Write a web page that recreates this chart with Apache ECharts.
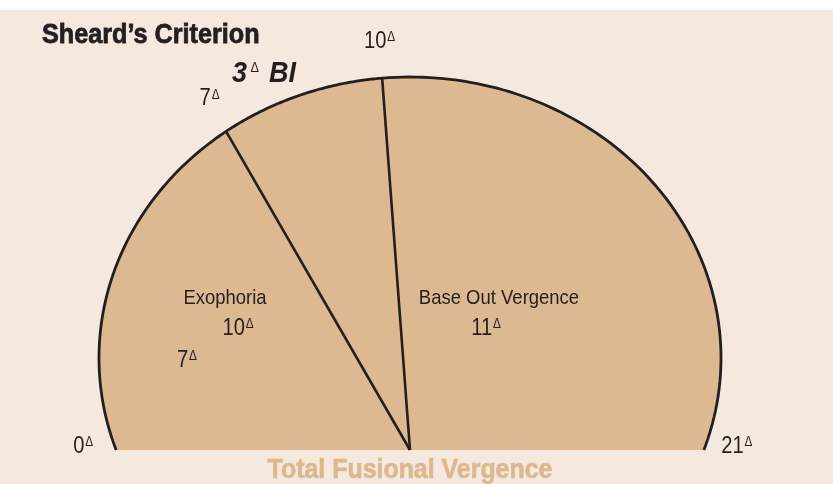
<!DOCTYPE html>
<html>
<head>
<meta charset="utf-8">
<script src="https://cdn.jsdelivr.net/npm/echarts@6/dist/echarts.min.js"></script>
<style>
  html, body { margin: 0; padding: 0; background: #ffffff; }
  #chart { width: 833px; height: 484px; }
</style>
</head>
<body>
<div id="chart"></div>
<script>
// Prism-dioptre marks along the total fusional range
const rangeMarks = [0, 7, 10, 21];
// Zones of the range, each running between two marks
const zoneStarts = [0, 7, 10];
const zoneEnds = [7, 10, 21];

const INK = '#231f20';
const TAN = '#ddb991';
const PAPER = '#f5e9df';
const SANS = '"Liberation Sans", Arial, Helvetica, sans-serif';
// condensed look: the sans face squeezed horizontally
const SQUEEZE_TEXT = 0.88;
const SQUEEZE_NUM = 0.84;

// Outline of the dome: an ellipse whose centre sits above the polar centre
const DOME = { dy: -92, rx: 311, ry: 281 };

// Where the ray for range value v meets the dome outline
function rimPoint(api, v) {
  const c = api.coord([0, v]);
  const p = api.coord([1, v]);
  const dx = p[0] - c[0], dy = p[1] - c[1];
  const len = Math.hypot(dx, dy) || 1;
  const ux = dx / len, uy = dy / len;
  const ox = 0, oy = -DOME.dy;
  const A = (ux / DOME.rx) ** 2 + (uy / DOME.ry) ** 2;
  const B = 2 * (ox * ux / DOME.rx ** 2 + oy * uy / DOME.ry ** 2);
  const C = (ox / DOME.rx) ** 2 + (oy / DOME.ry) ** 2 - 1;
  const t = (-B + Math.sqrt(B * B - 4 * A * C)) / (2 * A);
  return { x: c[0] + t * ux, y: c[1] + t * uy, ux: ux, uy: uy, c: c };
}

const numRich = {
  n: { fontSize: 24, fontFamily: SANS, fill: INK },
  d: { fontSize: 14, fontFamily: SANS, fill: INK, verticalAlign: 'top', padding: [1, 0, 0, 1] }
};
function degreeText(n) { return '{n|' + n + '}{d|Δ}'; }

function note(x, y, text, extra, squeeze) {
  return {
    type: 'text', x: x, y: y, z: 100, scaleX: squeeze, silent: true,
    style: Object.assign({ text: text, fill: INK, align: 'center', verticalAlign: 'middle' }, extra)
  };
}

const chart = echarts.init(document.getElementById('chart'), null, { renderer: 'canvas' });

chart.setOption({
  animation: false,
  backgroundColor: PAPER,
  polar: { center: [410, 450], radius: 380 },
  angleAxis: {
    type: 'value', min: 0, max: 21, startAngle: 180, endAngle: 0, clockwise: true,
    axisLine: { show: false }, axisTick: { show: false }, axisLabel: { show: false }, splitLine: { show: false }
  },
  radiusAxis: {
    type: 'value', min: 0, max: 1,
    axisLine: { show: false }, axisTick: { show: false }, axisLabel: { show: false }, splitLine: { show: false }
  },
  series: [
    {
      // the three zones: tan fill, dark rim, divider at each inner mark
      type: 'custom',
      coordinateSystem: 'polar',
      encode: { radius: 0, angle: [1, 2] },
      data: zoneStarts.map((s, i) => [1, s, zoneEnds[i]]),
      renderItem: function (params, api) {
        const v0 = api.value(1), v1 = api.value(2);
        const n = 90;
        const rim = [];
        for (let i = 0; i <= n; i++) {
          const r = rimPoint(api, v0 + (v1 - v0) * i / n);
          rim.push([r.x, r.y]);
        }
        const c = api.coord([0, v0]);
        const children = [
          { type: 'polygon', shape: { points: [c].concat(rim) }, style: { fill: TAN }, z2: 1 },
          { type: 'polyline', shape: { points: rim }, style: { stroke: INK, lineWidth: 2.8, fill: 'none' }, z2: 5 }
        ];
        if (v0 > rangeMarks[0]) {
          children.push({
            type: 'line',
            shape: { x1: c[0], y1: c[1], x2: rim[0][0], y2: rim[0][1] },
            style: { stroke: INK, lineWidth: 2.6 }, z2: 6
          });
        }
        return { type: 'group', children: children };
      }
    },
    {
      // value labels just outside the rim
      type: 'custom',
      coordinateSystem: 'polar',
      encode: { radius: 0, angle: 1 },
      data: rangeMarks.map(v => [1, v]),
      renderItem: function (params, api) {
        const v = api.value(1);
        const r = rimPoint(api, v);
        const off = 33;
        return {
          type: 'text',
          x: r.x + r.ux * off,
          y: r.y + r.uy * off - 4,
          scaleX: SQUEEZE_NUM,
          style: { text: degreeText(v), x: 0, y: 0, align: 'center', verticalAlign: 'middle', rich: numRich },
          z2: 10
        };
      }
    }
  ],
  graphic: [
    { type: 'rect', silent: true, z: 100, shape: { x: 0, y: 0, width: 833, height: 10 }, style: { fill: '#ffffff' } },
    note(42, 35, 'Sheard’s Criterion', { font: 'bold 28px ' + SANS, align: 'left', stroke: INK, lineWidth: 0.8 }, 0.9),
    note(264, 74, '{b|3}{d|Δ}{b| BI}', {
      rich: {
        b: { fontSize: 30, fontWeight: 'bold', fontStyle: 'italic', fontFamily: SANS, fill: INK },
        d: { fontSize: 14, fontFamily: SANS, fill: INK, verticalAlign: 'top', padding: [2, 3, 0, 4] }
      }
    }, 0.9),
    note(225, 298, 'Exophoria', { font: '21px ' + SANS }, SQUEEZE_TEXT),
    note(238, 328, degreeText(10), { rich: numRich }, SQUEEZE_NUM),
    note(187, 360, degreeText(7), { rich: numRich }, SQUEEZE_NUM),
    note(499, 298, 'Base Out Vergence', { font: '21px ' + SANS }, SQUEEZE_TEXT),
    note(486, 328, degreeText(11), { rich: numRich }, SQUEEZE_NUM),
    note(410, 470, 'Total Fusional Vergence', { font: 'bold 28px ' + SANS, fill: '#dcb88f', stroke: '#dcb88f', lineWidth: 0.7 }, 0.89)
  ]
});
</script>
</body>
</html>
